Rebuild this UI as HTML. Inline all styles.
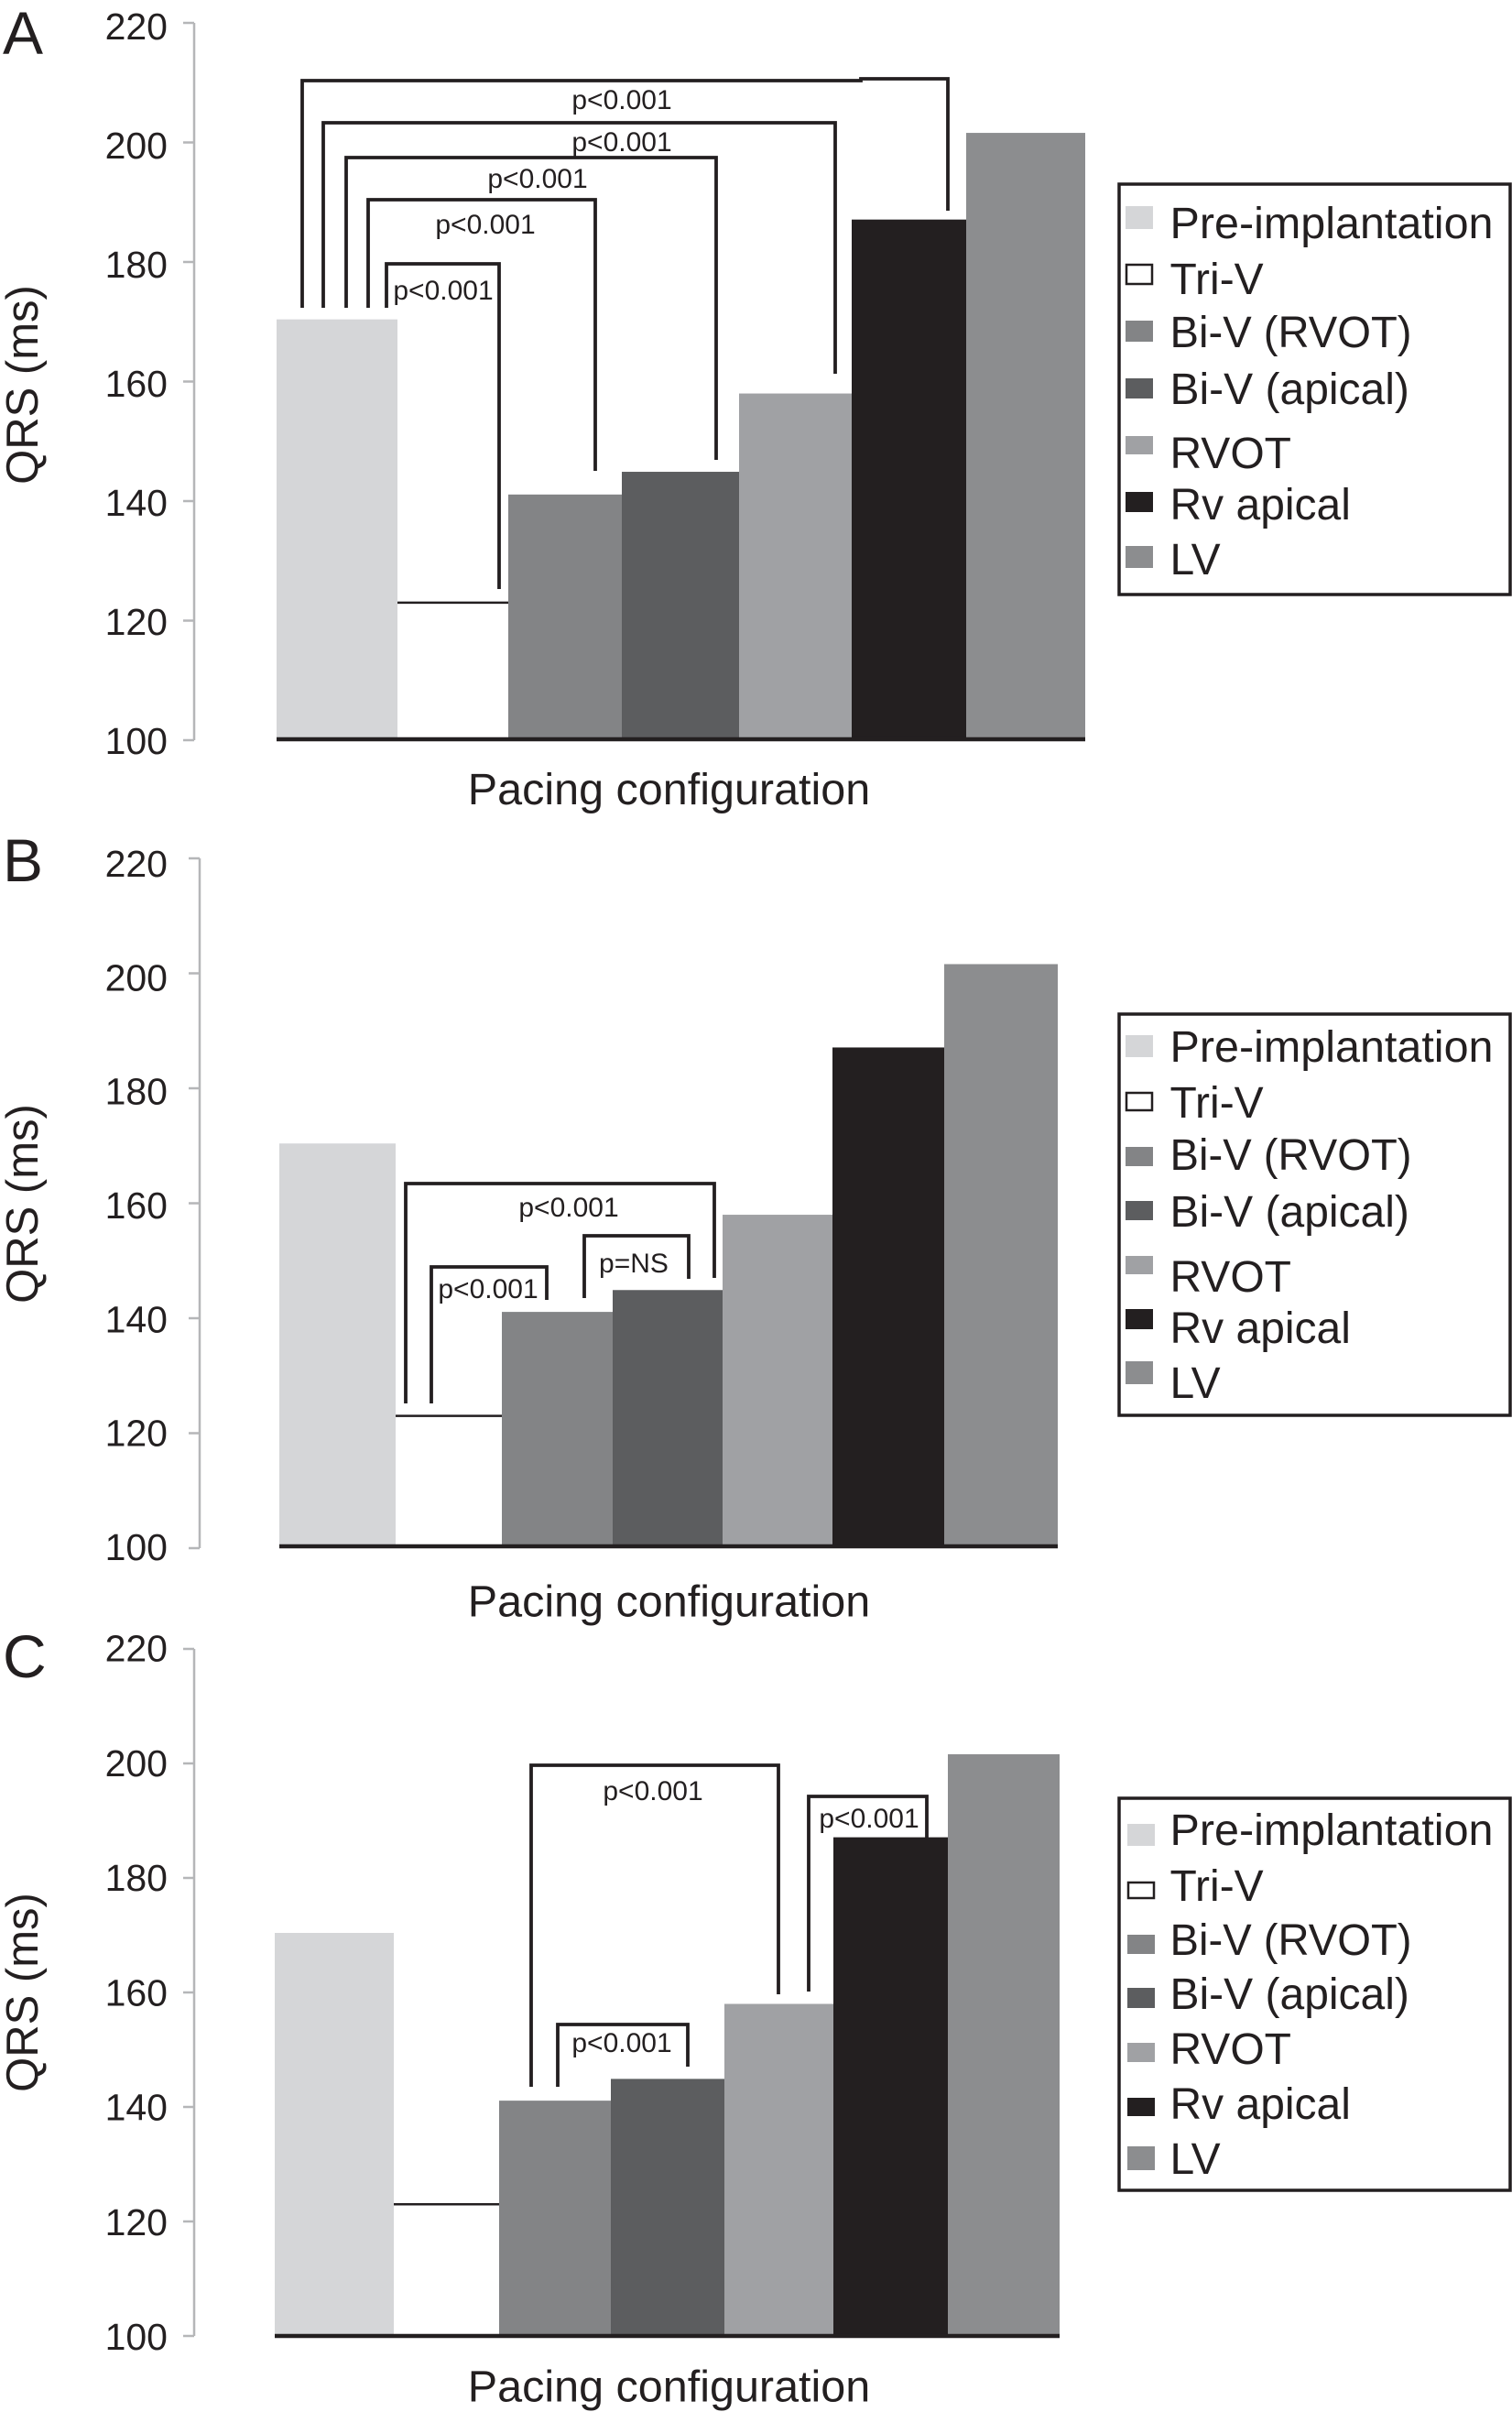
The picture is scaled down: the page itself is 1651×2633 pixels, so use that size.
<!DOCTYPE html>
<html lang="en">
<head>
<meta charset="utf-8">
<title>QRS duration by pacing configuration</title>
<style>
html,body{margin:0;padding:0;background:#fff;width:1651px;height:2633px;overflow:hidden}
svg{display:block}
text{font-family:"Liberation Sans",sans-serif;fill:#231f20}
</style>
</head>
<body>
<svg id="figure" xmlns="http://www.w3.org/2000/svg" width="1651" height="2633" viewBox="0 0 1651 2633"></svg>
<script>
// ---- Chart data ----
const categories = ['Pre-implantation', 'Tri-V', 'Bi-V (RVOT)', 'Bi-V (apical)', 'RVOT', 'Rv apical', 'LV'];
const qrsValues = [170.4, 123, 141.1, 144.9, 158, 187.1, 201.6];
const yTickLabels = [100, 120, 140, 160, 180, 200, 220];
const panelLetters = ['A', 'B', 'C'];
const xAxisTitle = 'Pacing configuration';
const yAxisTitle = 'QRS (ms)';

// ---- Layout and styling (separate from the data) ----
const barColors = ['#d5d6d8', '#ffffff', '#838486', '#5c5d5f', '#a0a1a4', '#231f20', '#8c8d8f'];
const legendFit = {'Pre-implantation': 353, 'Bi-V (RVOT)': 264};
const panels = [
  {
    letterY: 59, axisX: 212, y220: 25, y100: 808, baseY: 807,
    labelShiftTop: 18, labelShiftBottom: 15,
    edges: [302, 434, 555, 679, 807, 930, 1055, 1185],
    titleY: 878, yTitleCenter: 420,
    legend: {
      top: 201, bottom: 649, swatchX: 1229, swatchW: 30,
      swatches: [[225, 250], [288, 311], [350, 373], [413, 435], [476, 496], [537, 559], [596, 620]],
      baselines: [260, 321, 379, 441, 511, 567, 627]
    },
    brackets: [
      {l: 330, r: 1035, top: 88, lb: 336, rb: 230, jog: [940, 86], label: 'p<0.001', cx: 679, by: 119},
      {l: 353, r: 912, top: 134, lb: 336, rb: 408, label: 'p<0.001', cx: 679, by: 165},
      {l: 378, r: 782, top: 172, lb: 336, rb: 502, label: 'p<0.001', cx: 587, by: 205},
      {l: 402, r: 650, top: 218, lb: 336, rb: 514, label: 'p<0.001', cx: 530, by: 255},
      {l: 422, r: 545, top: 288, lb: 336, rb: 643, label: 'p<0.001', cx: 484, by: 327}
    ]
  },
  {
    letterY: 962, axisX: 218, y220: 937, y100: 1690, baseY: 1688,
    labelShiftTop: 20, labelShiftBottom: 13,
    edges: [305, 432, 548, 669, 789, 909, 1031, 1155],
    titleY: 1764.5, yTitleCenter: 1314,
    legend: {
      top: 1107, bottom: 1545, swatchX: 1229, swatchW: 30,
      swatches: [[1130, 1154], [1192, 1213], [1252, 1273], [1311, 1332], [1371, 1391], [1429, 1451], [1486, 1511]],
      baselines: [1159, 1220, 1277, 1339, 1410, 1466, 1526]
    },
    brackets: [
      {l: 443, r: 780, top: 1292, lb: 1532, rb: 1395, label: 'p<0.001', cx: 621, by: 1328},
      {l: 471, r: 597, top: 1383, lb: 1532, rb: 1419, label: 'p<0.001', cx: 533, by: 1417},
      {l: 638, r: 752, top: 1349, lb: 1417, rb: 1396, label: 'p=NS', cx: 692, by: 1389}
    ]
  },
  {
    letterY: 1831, axisX: 212, y220: 1800, y100: 2550, baseY: 2550,
    labelShiftTop: 13.5, labelShiftBottom: 15,
    edges: [300, 430, 545, 667, 791, 910, 1035, 1157],
    titleY: 2621.5, yTitleCenter: 2175,
    legend: {
      top: 1963, bottom: 2391, swatchX: 1231, swatchW: 30,
      swatches: [[1991, 2015], [2054, 2073], [2112, 2133], [2170, 2192], [2230, 2251], [2290, 2310], [2343, 2369]],
      baselines: [2014, 2075, 2134, 2193, 2253, 2313, 2373]
    },
    brackets: [
      {l: 580, r: 850, top: 1927, lb: 2278, rb: 2177, label: 'p<0.001', cx: 713, by: 1965},
      {l: 609, r: 751, top: 2210, lb: 2278, rb: 2256, label: 'p<0.001', cx: 679, by: 2240},
      {l: 883, r: 1012, top: 1961, lb: 2174, rb: 2006, label: 'p<0.001', cx: 949, by: 1995}
    ]
  }
];

const NS = 'http://www.w3.org/2000/svg';
const figure = document.getElementById('figure');
function make(tag, attrs, parent) {
  const node = document.createElementNS(NS, tag);
  for (const k in attrs) node.setAttribute(k, attrs[k]);
  parent.appendChild(node);
  return node;
}
function slug(s) {
  return String(s).toLowerCase().replace(/[^a-z0-9]+/g, '-').replace(/^-|-$/g, '');
}

panels.forEach(function (p, pi) {
  const letter = panelLetters[pi].toLowerCase();
  const lo = yTickLabels[0], hi = yTickLabels[yTickLabels.length - 1];
  const yScale = function (v) {
    return p.y100 - (v - lo) / (hi - lo) * (p.y100 - p.y220);
  };

  const group = make('g', {}, figure);
  
  

  const letterEl = make('text', {x: 3, y: p.letterY, 'font-size': 66}, group);
  letterEl.textContent = panelLetters[pi];
  
  

  // y axis
  const axis = make('line', {x1: p.axisX, x2: p.axisX, y1: yScale(hi), y2: yScale(lo), stroke: '#b5b6b8', 'stroke-width': 2.5}, group);
  
  

  yTickLabels.forEach(function (t) {
    const tick = make('line', {x1: p.axisX - 12, x2: p.axisX, y1: yScale(t), y2: yScale(t), stroke: '#b5b6b8', 'stroke-width': 2.5}, group);
    
    
    const shift = p.labelShiftBottom + (t - lo) / (hi - lo) * (p.labelShiftTop - p.labelShiftBottom);
    const lab = make('text', {x: 183, y: yScale(t) + shift, 'font-size': 41, 'text-anchor': 'end'}, group);
    lab.textContent = t;
    
    
  });

  const yt = make('text', {transform: 'translate(41,' + p.yTitleCenter + ') rotate(-90)', 'font-size': 49, 'text-anchor': 'middle'}, group);
  yt.textContent = yAxisTitle;
  
  

  // bars
  qrsValues.forEach(function (v, i) {
    const x0 = p.edges[i], x1 = p.edges[i + 1], top = yScale(v);
    const bar = make('rect', {x: x0, y: top, width: x1 - x0, height: p.baseY - top, fill: barColors[i]}, group);
    
    
    if (barColors[i] === '#ffffff') {
      const cap = make('line', {x1: x0, x2: x1, y1: top, y2: top, stroke: '#231f20', 'stroke-width': 2.5}, group);
      
      
    }
  });

  // baseline
  const base = make('line', {x1: p.edges[0], x2: p.edges[p.edges.length - 1], y1: p.baseY, y2: p.baseY, stroke: '#231f20', 'stroke-width': 4.5}, group);
  
  

  const xt = make('text', {x: 730.5, y: p.titleY, 'font-size': 48.5, 'text-anchor': 'middle'}, group);
  xt.textContent = xAxisTitle;
  
  

  // significance brackets
  p.brackets.forEach(function (b, bi) {
    let d = 'M' + b.l + ' ' + b.lb + 'L' + b.l + ' ' + b.top;
    if (b.jog) {
      d += 'L' + b.jog[0] + ' ' + b.top + 'L' + b.jog[0] + ' ' + b.jog[1] + 'L' + b.r + ' ' + b.jog[1];
    } else {
      d += 'L' + b.r + ' ' + b.top;
    }
    d += 'L' + b.r + ' ' + b.rb;
    const path = make('path', {d: d, fill: 'none', stroke: '#231f20', 'stroke-width': 3.8}, group);
    
    
    const lab = make('text', {x: b.cx, y: b.by, 'font-size': 30, 'text-anchor': 'middle'}, group);
    lab.textContent = b.label;
    
    
  });

  // legend
  const lg = p.legend;
  const box = make('rect', {x: 1222, y: lg.top, width: 427, height: lg.bottom - lg.top, fill: '#fff', stroke: '#231f20', 'stroke-width': 3.5}, group);
  
  
  categories.forEach(function (c, i) {
    const s = lg.swatches[i];
    const isWhite = barColors[i] === '#ffffff';
    const sw = make('rect', {
      x: lg.swatchX + (isWhite ? 1 : 0), y: s[0] + (isWhite ? 1 : 0),
      width: lg.swatchW - (isWhite ? 2 : 0), height: s[1] - s[0] - (isWhite ? 2 : 0),
      fill: barColors[i], stroke: isWhite ? '#231f20' : 'none', 'stroke-width': isWhite ? 2.5 : 0
    }, group);
    
    
    const t = make('text', {x: 1277.5, y: lg.baselines[i], 'font-size': 48}, group);
    if (legendFit[c]) {
      t.setAttribute('textLength', legendFit[c]);
      t.setAttribute('lengthAdjust', 'spacingAndGlyphs');
    }
    t.textContent = c;
    
    
  });
});
</script>
</body>
</html>
